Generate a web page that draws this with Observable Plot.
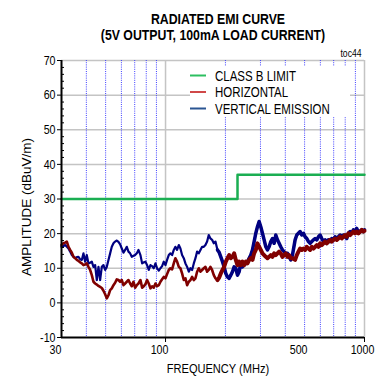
<!DOCTYPE html>
<html><head><meta charset="utf-8">
<script src="https://cdn.jsdelivr.net/npm/d3@7"></script>
<script src="https://cdn.jsdelivr.net/npm/@observablehq/plot@0.6"></script>
<style>body{margin:0;background:#fff}</style>
</head><body><div id="chart"></div>
<script>
// ---- data ----
const freq = [
30.0,30.70,31.30,31.91,32.53,33.16,33.81,34.46,35.14,35.82,36.52,37.23,37.95,38.69,39.44,40.21,40.99,41.79,42.60,43.43,44.28,45.14,46.02,46.91,47.83,48.76,49.71,50.68,51.66,52.67,53.69,54.74,55.80,56.89,58.00,59.13,60.28,61.45,62.65,63.87,65.11,66.38,67.67,68.99,70.33,71.70,73.10,
74.81,76.27,77.75,79.26,80.80,82.37,83.97,85.61,87.28,88.98,90.71,92.48,94.28,96.12,97.99,99.90,101.8,103.8,105.8,107.9,110.0,112.1,114.3,116.6,118.8,121.1,123.5,125.9,128.4,130.9,133.4,136.0,138.7,141.4,144.1,146.9,149.8,152.7,155.7,158.7,161.8,164.9,168.1,171.4,174.8,178.2,
182.4,186.0,189.6,193.3,197.0,200.9,204.8,208.8,212.8,217.0,221.2,225.5,229.9,234.4,238.9,243.6,248.3,253.2,258.1,263.1,268.2,273.5,278.8,284.2,289.7,295.4,301.1,307.0,313.0,319.1,325.3,331.6,338.1,344.7,351.4,358.2,365.2,372.3,379.5,386.9,394.5,402.1,410.0,418.0,426.1,434.4,
448.0,456.7,465.6,474.7,483.9,493.3,502.9,512.7,522.7,532.9,543.3,553.9,564.6,575.6,586.8,598.3,609.9,621.8,633.9,646.2,658.8,671.7,684.7,698.1,711.7,725.5,739.6,754.0,768.7,783.7,799.0,814.5,830.4,846.5,863.0,879.8,897.0,914.4,932.2,950.4,968.9,987.7,1000
];
const vertical = [
16.2,16.4,16.7,16.2,15.7,14.8,13.8,13.3,12.9,13.2,13.3,12.6,12.4,14.3,11.9,13.8,11.4,11.6,11.9,10.4,10.9,6.6,10.4,6.6,10.4,10.9,9.5,10.4,12.4,14.3,16.2,17.2,17.7,18.0,17.6,16.9,15.7,14.5,15.3,16.2,14.8,14.3,13.3,13.6,13.8,14.3,15.3,
13.8,11.4,11.7,11.9,10.9,9.5,10.9,10.6,10.0,11.4,10.0,9.3,10.0,10.6,11.9,10.9,12.4,13.8,14.3,13.8,15.3,16.2,15.3,16.7,15.7,13.8,12.9,11.4,10.4,9.0,10.0,9.5,11.4,12.9,14.8,14.3,15.3,16.2,16.2,16.7,17.7,19.6,18.6,18.2,17.2,17.7,
15.3,14.6,13.3,11.9,10.4,8.5,7.5,7.1,8.0,9.0,10.4,10.0,8.0,9.0,11.4,10.4,10.9,11.4,11.9,12.9,13.8,15.3,17.7,20.1,22.0,23.5,22.0,20.1,18.2,16.2,15.3,16.2,17.7,18.6,17.2,19.6,18.2,17.2,16.2,15.3,14.8,14.3,14.3,13.3,12.4,13.8,
18.2,19.6,20.1,20.6,19.6,20.1,19.1,18.6,17.7,17.2,17.7,18.2,18.6,18.2,19.1,19.6,18.6,17.7,18.2,17.2,18.2,17.7,18.6,18.2,19.1,18.6,19.1,19.6,19.1,19.6,19.1,18.6,20.1,20.6,20.1,21.1,20.6,21.5,20.1,20.6,21.1,20.6,21.1
];
const horizontal = [
16.7,17.2,17.4,17.7,16.2,15.3,14.5,13.3,12.9,12.4,12.1,11.7,11.4,10.9,11.1,11.4,10.4,9.5,8.0,6.1,5.6,5.3,4.9,4.6,4.3,3.5,2.5,1.3,2.2,3.7,4.2,5.1,5.8,6.8,6.6,6.1,6.6,5.1,5.6,6.1,6.6,5.6,4.8,6.1,4.4,5.1,5.6,
6.6,4.4,4.8,5.4,6.6,5.6,4.2,4.8,4.4,5.6,4.8,5.1,6.1,6.8,7.5,7.1,8.3,9.5,10.0,9.7,11.4,12.9,11.9,10.4,10.0,8.5,6.6,7.1,5.1,6.1,6.6,7.5,6.6,7.1,9.0,10.0,9.0,9.5,10.0,10.4,9.0,9.5,10.4,9.5,8.0,7.1,
6.6,7.3,8.5,9.5,10.4,11.9,12.9,13.8,12.9,13.3,14.3,12.4,10.9,11.9,10.9,11.9,10.9,11.9,11.4,12.4,12.9,12.4,14.3,15.3,17.2,16.2,15.3,14.3,13.8,13.3,12.9,13.3,13.8,13.3,14.3,13.8,14.3,14.8,14.3,13.3,13.8,14.3,13.3,13.8,12.9,12.9,
12.4,13.8,14.8,15.7,15.3,15.7,15.3,16.2,15.7,15.3,16.2,15.7,16.2,16.7,16.2,17.2,16.7,17.2,17.7,17.2,17.7,18.2,17.7,18.2,18.6,18.2,18.6,19.1,18.6,19.1,19.6,19.1,20.1,19.6,20.1,20.6,20.1,20.6,20.1,20.6,21.1,20.6,20.8
];
const limitFreq = [30, 230, 1000];
const limitValue = [30, 37, 37];
const yMajor = [-10, 0, 10, 20, 30, 40, 50, 60, 70];
const yMinor = [-8,-6,-4,-2,2,4,6,8,12,14,16,18,22,24,26,28,32,34,36,38,42,44,46,48,52,54,56,58,62,64,66,68];
const gridY = [0, 10, 20, 30, 40, 50, 60, 70];
const dottedX = [40, 50, 60, 70, 80, 90, 200, 300, 400, 500, 600, 700, 800, 900];
const solidX = [100, 1000];
const xLabels = [30, 100, 500];
const xLabelEnd = [1000];
const seriesNames = ["CLASS B LIMIT", "HORIZONTAL", "VERTICAL EMISSION"];
const seriesColors = ["#1aae52", "#800000", "#000080"];
const swatchColors = ["#2cbf60", "#d04848", "#2a5592"];
const titleLines = ["RADIATED EMI CURVE", "(5V OUTPUT, 100mA LOAD CURRENT)"];

const traceV = freq.map((f, i) => ({f, v: vertical[i]}));
const traceH = freq.map((f, i) => ({f, v: horizontal[i]}));
const limit = limitFreq.map((f, i) => ({f, v: limitValue[i]}));
const thickFrom = 180;

const FONT = "'Liberation Sans',Arial,sans-serif";
const SQ = 0.82; // horizontal squeeze of the reference lettering
const W = 379, H = 377;
const chart = Plot.plot({
  width: W, height: H,
  marginLeft: 61, marginRight: 15, marginTop: 60, marginBottom: 40,
  style: {fontFamily: FONT, fontSize: "13px", color: "#000", background: "#fff", overflow: "visible"},
  x: {type: "log", domain: [30, 1000]},
  y: {domain: [-10, 70]},
  marks: [
    Plot.ruleY(gridY, {stroke: "#c4c4c4", strokeWidth: 1.5}),
    Plot.ruleX(dottedX, {stroke: "#3f3fff", strokeWidth: 1, strokeDasharray: "1,1.2"}),
    Plot.ruleX(solidX, {stroke: "#c4c4c4", strokeWidth: 1.5}),
    Plot.line(traceV, {x: "f", y: "v", stroke: seriesColors[2], strokeWidth: 2.2}),
    Plot.line(traceV.filter(d => d.f >= thickFrom), {x: "f", y: "v", stroke: seriesColors[2], strokeWidth: 3.5}),
    Plot.line(traceH, {x: "f", y: "v", stroke: seriesColors[1], strokeWidth: 2.6}),
    Plot.line(traceH.filter(d => d.f >= thickFrom), {x: "f", y: "v", stroke: seriesColors[1], strokeWidth: 4}),
    Plot.line(limit, {x: "f", y: "v", curve: "step-after", stroke: seriesColors[0], strokeWidth: 2.5}),
    Plot.axisY({ticks: yMajor, tickSize: 4, tickPadding: 2, tickFormat: d => String(d), label: null, fontSize: 13}),
    Plot.axisY({ticks: yMinor, tickSize: -3, text: null, label: null}),
    Plot.ruleX([30], {stroke: "#000", strokeWidth: 2}),
    Plot.ruleY([-10], {stroke: "#000", strokeWidth: 2}),
    Plot.axisX({ticks: xLabels, tickSize: 0, tickPadding: 7, dx: -6, tickFormat: d => String(d), label: null, fontSize: 13}),
    Plot.axisX({ticks: xLabelEnd, tickSize: 0, tickPadding: 7, dx: -2, tickFormat: d => String(d), label: null, fontSize: 13}),
    Plot.axisX({ticks: solidX, tickSize: 5, text: null, label: null})
  ]
});
document.getElementById("chart").appendChild(chart);

// compress lettering horizontally (keeps the anchor position)
function squeeze(el, k) {
  const len = el.getComputedTextLength();
  if (len > 0) {
    el.setAttribute("textLength", (len * k).toFixed(2));
    el.setAttribute("lengthAdjust", "spacingAndGlyphs");
  }
}
chart.querySelectorAll("text").forEach(el => squeeze(el, SQ));

const svg = d3.select(chart);
function addText(x, y, str, font, anchor) {
  const el = svg.append("text").attr("x", x).attr("y", y)
    .style("text-anchor", anchor || "middle").style("font", font).style("fill", "#000").text(str);
  squeeze(el.node(), SQ);
  return el;
}
// titles
addText(218, 23.5, titleLines[0], "bold 15px " + FONT);
addText(213, 39.5, titleLines[1], "bold 15px " + FONT);
addText(351, 57, "toc44", "10.5px " + FONT);
// axis labels
addText(218, 373, "FREQUENCY (MHz)", "13.5px " + FONT);
svg.append("text").attr("transform", "translate(31,207) rotate(-90)")
  .style("text-anchor", "middle").style("font", "13.5px " + FONT).style("fill", "#000").text("AMPLITUDE (dBuV/m)");
// legend
const lg = svg.append("g");
lg.append("rect").attr("x", 190).attr("y", 66).attr("width", 160).attr("height", 51)
  .style("fill", "#fff").style("stroke", "none");
seriesNames.forEach((name, i) => {
  const cy = 75.5 + i * 16.5;
  lg.append("line").attr("x1", 190).attr("x2", 206).attr("y1", cy).attr("y2", cy)
    .style("stroke", swatchColors[i]).style("stroke-width", 2);
  addText(215, cy + 5, name, "14px " + FONT, "start");
});
</script>
</body></html>
